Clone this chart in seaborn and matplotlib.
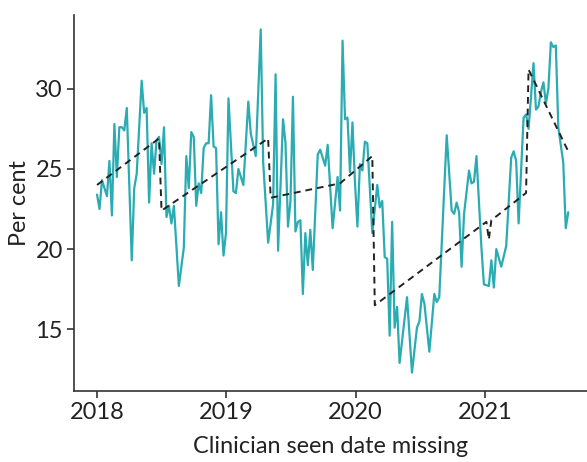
import numpy as np
import pandas as pd
import matplotlib
matplotlib.use("Agg")
import matplotlib.pyplot as plt
import matplotlib.dates as mdates
import seaborn as sns

# weeks since 2018-01-01 and observed percentage
obs_week = [0, 1, 2, 4, 5, 6, 7, 8, 9, 10, 11, 12, 14, 15, 16, 18, 19, 20, 21, 22,
            23, 24, 25, 26, 27, 28, 29, 30, 31, 33, 35, 36, 37, 38, 39, 40, 41, 42, 43, 44,
            45, 46, 47, 48, 49, 50, 51, 52, 53, 55, 56, 57, 59, 61, 62, 64, 66, 67, 69, 71,
            72, 73, 75, 76, 77, 78, 79, 80, 81, 82, 83, 84, 85, 86, 87, 89, 90, 92, 93, 95,
            97, 98, 99, 100, 101, 102, 103, 104, 105, 106, 107, 108, 109, 111, 113, 114, 115, 116, 117, 118,
            119, 120, 121, 122, 125, 127, 129, 130, 131, 132, 134, 136, 137, 138, 141, 143, 144, 145, 146, 147,
            148, 150, 151, 152, 153, 155, 156, 158, 159, 160, 161, 163, 165, 166, 167, 168, 169, 170, 172, 173,
            174, 175, 176, 177, 178, 179, 180, 181, 182, 183, 184, 185, 186, 188, 189, 190]
obs_pct = [23.4, 22.5, 24.3, 23.3, 25.5, 22.1, 27.8, 24.5, 27.6, 27.6, 27.4, 28.8, 19.3, 23.8, 24.7, 30.5, 28.5, 28.8, 22.9, 26.6,
           24.7, 26.8, 27.0, 25.3, 27.6, 22.0, 22.7, 21.6, 22.7, 17.7, 20.1, 25.8, 23.8, 27.3, 27.0, 22.7, 24.1, 23.5, 26.3, 26.6,
           26.6, 29.6, 26.4, 26.3, 20.3, 22.3, 19.6, 21.0, 29.4, 23.6, 23.5, 25.0, 24.0, 29.2, 27.2, 25.8, 33.7, 25.4, 20.4, 22.8,
           30.9, 19.9, 28.1, 26.6, 21.4, 23.0, 29.5, 21.1, 21.7, 21.8, 17.2, 21.0, 19.0, 21.2, 18.7, 25.9, 26.2, 25.2, 26.5, 21.3,
           24.5, 22.4, 33.0, 28.1, 28.2, 24.8, 27.9, 24.2, 21.4, 25.3, 24.9, 26.7, 26.6, 21.0, 24.0, 22.6, 23.0, 19.5, 19.4, 14.6,
           21.7, 15.1, 16.4, 12.9, 17.0, 12.3, 15.1, 15.5, 17.2, 16.6, 13.6, 17.2, 16.7, 17.0, 27.1, 22.4, 22.2, 22.9, 22.3, 18.9,
           22.2, 24.9, 24.1, 24.2, 25.8, 20.1, 17.8, 17.7, 19.3, 17.6, 20.0, 18.9, 20.2, 22.9, 25.7, 26.1, 25.5, 21.6, 28.2, 28.4,
           27.5, 29.5, 31.6, 28.7, 28.9, 29.8, 30.4, 29.1, 30.0, 32.9, 32.6, 32.7, 27.6, 25.4, 21.3, 22.3]

# fitted (segmented) trend
fit_week = [0, 25, 26, 69, 70, 98, 111, 112, 157, 158, 159, 173, 174, 190]
fit_pct = [24.0, 26.9, 22.4, 26.9, 23.2, 24.1, 25.8, 16.5, 21.7, 20.6, 21.8, 23.5, 31.2, 26.1]

start = pd.Timestamp("2018-01-01")
obs = pd.DataFrame({"date": start + pd.to_timedelta(np.array(obs_week) * 7, unit="D"),
                    "pct": obs_pct})
fit = pd.DataFrame({"date": start + pd.to_timedelta(np.array(fit_week) * 7, unit="D"),
                    "pct": fit_pct})

sns.set_style("ticks")
plt.rcParams["font.family"] = ["Lato", "DejaVu Sans"]

fig = plt.figure(figsize=(5.87, 4.62), dpi=100)
ax = fig.add_axes([74 / 587, 1 - 391 / 462, 1 - 74 / 587, (391 - 15) / 462])

sns.lineplot(data=obs, x="date", y="pct", ax=ax, color="#2BABB2", linewidth=1.6)
sns.lineplot(data=fit, x="date", y="pct", ax=ax, color="#222222", linewidth=1.4,
             linestyle=(0, (3.5, 2.5)))

ax.set_xlim(start - pd.Timedelta(days=65), start + pd.Timedelta(days=int(197.7 * 7)))
ax.set_ylim(11.15, 34.6)
ax.set_yticks([15, 20, 25, 30])
ax.xaxis.set_major_locator(mdates.YearLocator())
ax.xaxis.set_major_formatter(mdates.DateFormatter("%Y"))

ax.set_xlabel("Clinician seen date missing", fontsize=16.8, color="#222222", labelpad=9)
ax.set_ylabel("Per cent", fontsize=16.8, color="#222222", labelpad=4)
ax.tick_params(axis="both", labelsize=17, colors="#222222", length=5, width=1.1, pad=3)
for s in ["top", "right"]:
    ax.spines[s].set_visible(False)
for s in ["left", "bottom"]:
    ax.spines[s].set_color("#333333")
    ax.spines[s].set_linewidth(1.2)

fig.savefig("out.png", dpi=100)
